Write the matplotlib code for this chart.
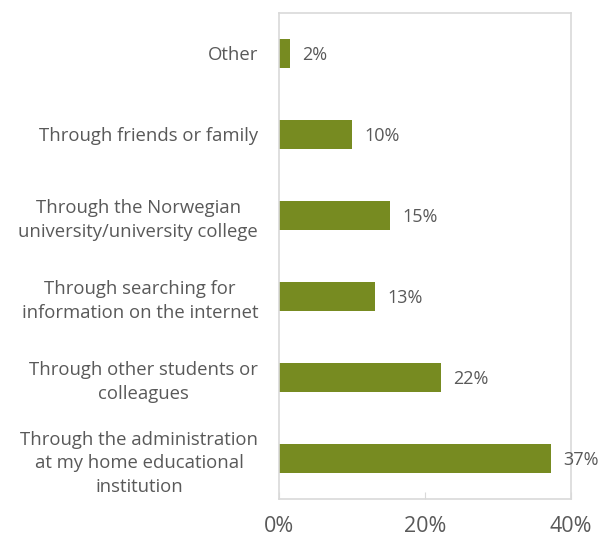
import matplotlib.pyplot as plt
from matplotlib.ticker import FuncFormatter

plt.rcParams['font.family'] = ['Open Sans', 'DejaVu Sans']

# bottom to top
categories = [
    "Through the administration\nat my home educational\ninstitution",
    "Through other students or\ncolleagues",
    "Through searching for\ninformation on the internet",
    "Through the Norwegian\nuniversity/university college",
    "Through friends or family",
    "Other",
]
values = [37.3, 22.2, 13.1, 15.2, 10.0, 1.5]
value_labels = ["37%", "22%", "13%", "15%", "10%", "2%"]
x_ticks = [0, 20, 40]

bar_color = "#778B21"
text_color = "#595959"
frame_color = "#D9D9D9"

fig = plt.figure(figsize=(6.01, 5.38), dpi=100)
ax = fig.add_axes([0.464, 0.0725, 0.486, 0.9035])

ypos = list(range(len(categories)))
ax.barh(ypos, values, height=0.36, color=bar_color)

for y, v, lab in zip(ypos, values, value_labels):
    ax.annotate(lab, (v, y), xytext=(9, 0), textcoords="offset points",
                va="center_baseline", ha="left", fontsize=13, color=text_color)

ax.set_xlim(0, 40)
ax.set_ylim(-0.5, 5.5)
ax.set_xticks(x_ticks)
ax.xaxis.set_major_formatter(FuncFormatter(lambda v, p: f"{v:.0f}%"))
ax.set_yticks(ypos)
ax.set_yticklabels(categories, multialignment="center", linespacing=1.42)

ax.tick_params(axis="x", direction="in", length=5, color=frame_color,
               labelsize=15.5, labelcolor=text_color, pad=12)
ax.tick_params(axis="y", length=0, labelsize=13.3, labelcolor=text_color, pad=15)

for s in ax.spines.values():
    s.set_color(frame_color)
    s.set_linewidth(1.2)

fig.savefig("out.png", dpi=100)
